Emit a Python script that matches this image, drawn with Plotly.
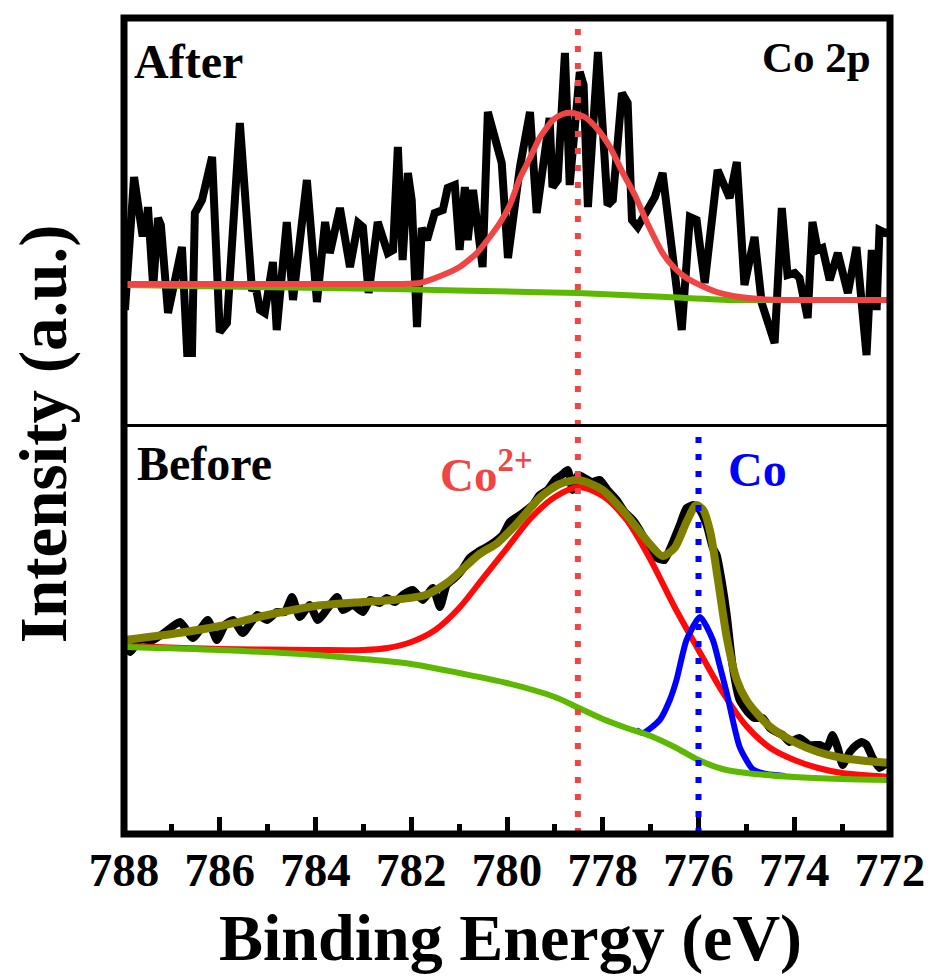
import plotly.graph_objects as go

FONT = "Liberation Serif, Times New Roman, serif"

# ---------------- data ----------------
# x axis ticks
major_ticks = [788, 786, 784, 782, 780, 778, 776, 774, 772]
minor_ticks = [787, 785, 783, 781, 779, 777, 775, 773]
tick_labels = ["788", "786", "784", "782", "780", "778", "776", "774", "772"]

# peak positions (dotted markers)
co2_peak = 778.52
co_peak = 776.0

# "After" panel: raw spectrum
after_energy = [787.98, 787.79, 787.62, 787.54, 787.50, 787.39, 787.29, 787.23, 787.08, 786.98,
                786.79, 786.68, 786.58, 786.52, 786.37, 786.16, 786.00, 785.85, 785.58, 785.33,
                785.24, 785.16, 785.06, 784.89, 784.81, 784.60, 784.47, 784.18, 783.97, 783.80,
                783.70, 783.49, 783.28, 783.11, 783.01, 782.89, 782.70, 782.49, 782.38, 782.28,
                782.18, 782.07, 781.99, 781.88, 781.78, 781.67, 781.51, 781.34, 781.24, 781.09,
                780.99, 780.88, 780.82, 780.71, 780.51, 780.40, 780.11, 779.98, 779.73, 779.52,
                779.38, 779.11, 779.05, 778.94, 778.79, 778.69, 778.48, 778.40, 778.31, 778.10,
                777.90, 777.79, 777.60, 777.48, 777.39, 777.27, 776.91, 776.75, 776.35, 776.18,
                776.04, 775.87, 775.60, 775.35, 775.20, 775.04, 774.83, 774.68, 774.41, 774.26,
                774.14, 773.99, 773.89, 773.72, 773.62, 773.51, 773.41, 773.26, 773.09, 772.88,
                772.70, 772.49, 772.38, 772.28, 772.22, 772.09, 772.00]
after_counts = [120, 253, 197, 197, 223, 143, 212, 205, 117, 137,
                183, 77, 77, 217, 230, 273, 98, 107, 307, 142,
                141, 120, 117, 168, 100, 208, 130, 250, 128, 208,
                177, 222, 163, 207, 203, 137, 208, 177, 180, 283,
                170, 257, 230, 103, 202, 190, 217, 220, 242, 245,
                180, 243, 190, 240, 163, 318, 267, 172, 263, 318,
                217, 312, 243, 250, 377, 245, 358, 345, 223, 378,
                225, 230, 337, 327, 210, 203, 233, 257, 100, 213,
                210, 147, 260, 232, 268, 145, 193, 127, 87, 222,
                155, 157, 152, 112, 208, 180, 182, 150, 177, 137,
                183, 75, 180, 120, 200, 197, 198]

# "After" panel: Co2+ fit and background
after_fit_energy = [787.98, 784.33, 782.24, 781.82, 781.34, 780.99, 780.63, 780.36, 780.15, 779.94,
                    779.73, 779.52, 779.32, 779.04, 778.83, 778.63, 778.38, 778.13, 777.85, 777.58,
                    777.33, 777.08, 776.75, 776.50, 776.25, 775.97, 775.62, 775.14, 774.72, 773.89,
                    772.00]
after_fit = [146, 146, 146, 147, 155, 163, 177, 193, 207, 225,
             252, 272, 292, 310, 316, 317, 313, 302, 283, 257,
             235, 208, 177, 162, 152, 145, 138, 133, 131, 130,
             130]
after_bg_energy = [787.98, 782.38, 779.56, 778.52, 776.66, 775.28, 774.72, 772.00]
after_bg = [145, 141, 138, 137, 133, 130, 130, 130]

# "Before" panel: raw spectrum
before_energy = [787.98, 787.87, 787.67, 787.39, 787.14, 786.83, 786.56, 786.25, 786.06, 785.89,
                 785.72, 785.52, 785.22, 785.01, 784.81, 784.64, 784.49, 784.33, 784.12, 783.95,
                 783.74, 783.55, 783.43, 783.22, 783.01, 782.86, 782.66, 782.51, 782.34, 782.18,
                 781.97, 781.76, 781.55, 781.40, 781.26, 781.09, 780.94, 780.78, 780.61, 780.42,
                 780.26, 780.09, 779.94, 779.73, 779.59, 779.46, 779.32, 779.15, 779.00, 778.86,
                 778.73, 778.63, 778.52, 778.38, 778.23, 778.06, 777.90, 777.71, 777.54, 777.37,
                 777.23, 777.06, 776.87, 776.71, 776.56, 776.39, 776.25, 776.10, 775.97, 775.83,
                 775.70, 775.62, 775.52, 775.41, 775.29, 775.14, 774.97, 774.83, 774.66, 774.51,
                 774.37, 774.24, 774.10, 773.89, 773.68, 773.47, 773.32, 773.20, 773.09, 772.99,
                 772.84, 772.70, 772.59, 772.49, 772.36, 772.22, 772.07]
before_counts = [192, 188, 200, 200, 208, 218, 202, 220, 200, 215,
                 220, 207, 225, 220, 228, 228, 243, 223, 235, 220,
                 232, 243, 230, 235, 228, 240, 237, 242, 238, 245,
                 250, 240, 252, 233, 255, 262, 270, 282, 288, 293,
                 298, 305, 318, 325, 330, 335, 345, 350, 360, 365,
                 370, 350, 365, 362, 358, 360, 350, 340, 328, 320,
                 310, 295, 282, 280, 295, 315, 332, 335, 330, 315,
                 292, 285, 260, 225, 175, 140, 128, 122, 122, 112,
                 108, 105, 98, 102, 95, 95, 92, 105, 92, 75,
                 88, 95, 98, 95, 82, 72, 77]

# "Before" panel: background
before_bg_energy = [788.0, 786.0, 784.0, 783.0, 782.0, 781.0, 780.0, 779.0, 778.5, 778.0,
                    777.5, 777.0, 776.5, 776.0, 775.5, 775.0, 774.0, 773.0, 772.0]
before_bg = [193, 190, 185, 181, 176, 167, 157, 143, 132, 121,
             112, 104, 93, 80, 71, 67, 63, 61, 60]

# "Before" panel: Co2+ component
before_co2_energy = [788.0, 786.0, 784.0, 783.0, 782.5, 782.0, 781.5, 781.0, 780.5, 780.0,
                     779.5, 779.0, 778.5, 778.0, 777.5, 777.0, 776.5, 776.0, 775.5, 775.0,
                     774.5, 774.0, 773.5, 773.0, 772.0]
before_co2 = [194, 191, 190, 190, 192, 198, 210, 232, 262, 292,
              322, 343, 353, 344, 320, 280, 233, 190, 148, 114,
              92, 80, 72, 67, 63]

# "Before" panel: Co component
before_co_energy = [777.30, 777.16, 776.81, 776.60, 776.46, 776.25, 775.97, 775.70, 775.56, 775.41,
                    775.14, 774.87, 774.58, 774.20]
before_co = [110, 107, 120, 140, 160, 200, 223, 200, 175, 147,
             93, 71, 66, 64]

# "Before" panel: envelope
before_env_energy = [788.0, 787.0, 786.0, 785.0, 784.0, 783.0, 782.4, 781.7, 781.2, 780.6,
                     780.2, 779.8, 779.3, 778.9, 778.5, 778.0, 777.5, 777.0, 776.75, 776.5,
                     776.25, 776.05, 775.9, 775.75, 775.6, 775.4, 775.2, 775.0, 774.75, 774.5,
                     774.0, 773.5, 773.0, 772.5, 772.0]
before_env = [200, 206, 214, 225, 234, 238, 240, 245, 259, 285,
              297, 316, 343, 356, 360, 350, 325, 295, 284, 292,
              318, 335, 330, 307, 262, 200, 160, 140, 125, 113,
              98, 88, 82, 79, 77]

# ---------------- colours ----------------
BLACK = "#000000"
LIGHT_RED = "#ef4545"
RED = "#ff0a0a"
GREEN = "#5cb800"
BLUE = "#0000ff"
OLIVE = "#808000"

SPLIT = 0.5006

fig = go.Figure()

# top panel (After)
fig.add_trace(go.Scatter(x=after_energy, y=after_counts, mode="lines",
                         line=dict(color=BLACK, width=8), xaxis="x2", yaxis="y2"))
fig.add_trace(go.Scatter(x=after_bg_energy, y=after_bg, mode="lines",
                         line=dict(color=GREEN, width=6, shape="spline", smoothing=0.6),
                         xaxis="x2", yaxis="y2"))
fig.add_trace(go.Scatter(x=after_fit_energy, y=after_fit, mode="lines",
                         line=dict(color=LIGHT_RED, width=6, shape="spline", smoothing=0.6),
                         xaxis="x2", yaxis="y2"))

# bottom panel (Before)
fig.add_trace(go.Scatter(x=before_energy, y=before_counts, mode="lines",
                         line=dict(color=BLACK, width=8, shape="spline", smoothing=0.5),
                         xaxis="x", yaxis="y"))
fig.add_trace(go.Scatter(x=before_co2_energy, y=before_co2, mode="lines",
                         line=dict(color=RED, width=6, shape="spline", smoothing=0.8),
                         xaxis="x", yaxis="y"))
fig.add_trace(go.Scatter(x=before_co_energy, y=before_co, mode="lines",
                         line=dict(color=BLUE, width=6, shape="spline", smoothing=0.6),
                         xaxis="x", yaxis="y"))
fig.add_trace(go.Scatter(x=before_bg_energy, y=before_bg, mode="lines",
                         line=dict(color=GREEN, width=6, shape="spline", smoothing=0.8),
                         xaxis="x", yaxis="y"))
fig.add_trace(go.Scatter(x=before_env_energy, y=before_env, mode="lines",
                         line=dict(color=OLIVE, width=8, shape="spline", smoothing=0.7),
                         xaxis="x", yaxis="y"))

shapes = [
    # dotted peak markers
    dict(type="line", xref="x", yref="paper", x0=co2_peak, x1=co2_peak, y0=0.0, y1=0.99,
         line=dict(color=LIGHT_RED, width=6, dash="6px,11px"), layer="above"),
    dict(type="line", xref="x", yref="paper", x0=co_peak, x1=co_peak, y0=0.0, y1=0.493,
         line=dict(color=BLUE, width=6, dash="6px,11px"), layer="above"),
    # divider between panels
    dict(type="line", xref="paper", yref="paper", x0=0, x1=1, y0=SPLIT, y1=SPLIT,
         line=dict(color=BLACK, width=3), layer="above"),
    # frame
    dict(type="rect", xref="paper", yref="paper", x0=0, x1=1, y0=0, y1=1,
         line=dict(color=BLACK, width=7), layer="above"),
]

annotations = [
    dict(text="After", x=0.0104, y=0.9461, xref="paper", yref="paper",
         xanchor="left", yanchor="middle", showarrow=False,
         font=dict(family=FONT, size=48, color=BLACK, weight="bold")),
    dict(text="Co 2p", x=0.9778, y=0.9521, xref="paper", yref="paper",
         xanchor="right", yanchor="middle", showarrow=False,
         font=dict(family=FONT, size=43, color=BLACK, weight="bold")),
    dict(text="Before", x=0.0144, y=0.4545, xref="paper", yref="paper",
         xanchor="left", yanchor="middle", showarrow=False,
         font=dict(family=FONT, size=48, color=BLACK, weight="bold")),
    dict(text="Co<sup>2+</sup>", x=0.4100, y=0.4061, xref="paper", yref="paper",
         xanchor="left", yanchor="bottom", showarrow=False,
         font=dict(family=FONT, size=47, color=LIGHT_RED, weight="bold")),
    dict(text="Co", x=0.7860, y=0.4466, xref="paper", yref="paper",
         xanchor="left", yanchor="middle", showarrow=False,
         font=dict(family=FONT, size=48, color=BLUE, weight="bold")),
    dict(text="Intensity (a.u.)", x=-0.1057, y=0.490, xref="paper", yref="paper",
         xanchor="center", yanchor="middle", textangle=-90, showarrow=False,
         font=dict(family=FONT, size=67, color=BLACK, weight="bold")),
    dict(text="Binding Energy (eV)", x=0.504, y=-0.128, xref="paper", yref="paper",
         xanchor="center", yanchor="middle", showarrow=False,
         font=dict(family=FONT, size=66, color=BLACK, weight="bold")),
]

fig.update_layout(
    width=931, height=978,
    margin=dict(l=124, r=41, t=18, b=144, autoexpand=False),
    paper_bgcolor="white", plot_bgcolor="white",
    showlegend=False,
    font=dict(family=FONT, color=BLACK),
    xaxis=dict(domain=[0, 1], anchor="y", range=[788, 772], automargin=False,
               tickmode="array", tickvals=major_ticks, ticktext=tick_labels,
               ticks="inside", ticklen=17, tickwidth=5, tickcolor=BLACK,
               ticklabelstandoff=4,
               minor=dict(tickmode="array", tickvals=minor_ticks, ticks="inside",
                          ticklen=10, tickwidth=5, tickcolor=BLACK, showgrid=False),
               showgrid=False, zeroline=False, showline=False,
               tickfont=dict(family=FONT, size=47, color=BLACK, weight="bold")),
    yaxis=dict(domain=[0, SPLIT], anchor="x", range=[6, 414.5], automargin=False,
               showticklabels=False, ticks="", showgrid=False, zeroline=False, showline=False),
    xaxis2=dict(domain=[0, 1], anchor="y2", matches="x", range=[788, 772], automargin=False,
                showticklabels=False, ticks="", showgrid=False, zeroline=False, showline=False),
    yaxis2=dict(domain=[SPLIT, 1], anchor="x2", range=[4.5, 412], automargin=False,
                showticklabels=False, ticks="", showgrid=False, zeroline=False, showline=False),
    shapes=shapes,
    annotations=annotations,
)

fig.write_html("out.html", config={"displayModeBar": False},
               post_script="document.body.style.margin='0px';document.body.style.overflow='hidden';")
